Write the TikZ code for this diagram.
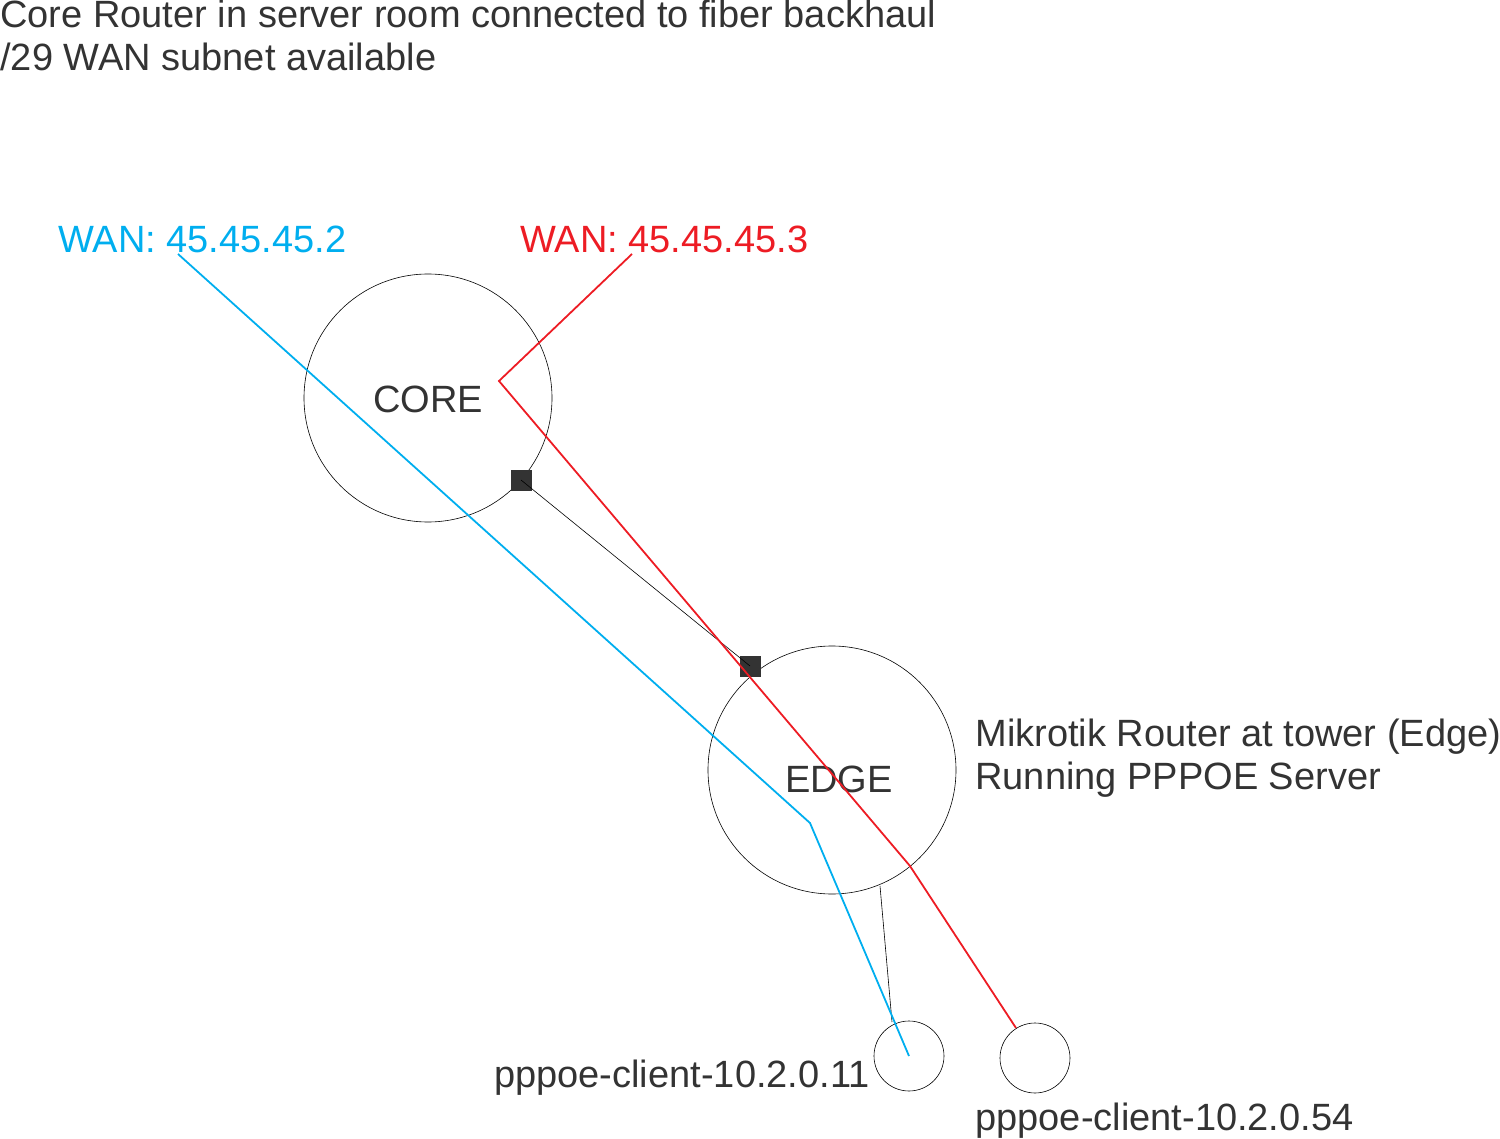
\documentclass[tikz,border=0pt]{standalone}
\usepackage{fontspec}
\setmainfont{Liberation Sans}
\definecolor{wanblue}{RGB}{0,174,239}
\definecolor{wanred}{RGB}{237,28,36}
\definecolor{txt}{RGB}{51,51,51}
\begin{document}
\begin{tikzpicture}[x=0.5pt,y=-0.5pt,
  lbl/.style={font=\fontsize{19}{22}\selectfont,text=txt,inner sep=0pt},
  router/.style={draw,circle,line width=0.3pt,inner sep=0pt},
  port/.style={fill=txt,minimum size=10.5pt,inner sep=0pt},
  thin/.style={line width=0.3pt}]
\useasboundingbox (0,0) rectangle (1500,1139);
\node[lbl,anchor=base west] (t1) at (0,28) {Core Router in server room connected to fiber backhaul};
\node[lbl,anchor=base west] (t2) at (0,71) {/29 WAN subnet available};
\node[lbl,anchor=base west,text=wanblue] (wb) at (58,253) {WAN: 45.45.45.2};
\node[lbl,anchor=base west,text=wanred] (wr) at (520,253) {WAN: 45.45.45.3};
\node[router,minimum size=124pt] (core) at (428,398) {};
\node[lbl] (coret) at (428,399) {CORE};
\node[router,minimum size=124pt] (edge) at (832,770) {};
\node[lbl] (edget) at (839,779) {EDGE};
\node[router,minimum size=35pt] (c1) at (909,1056) {};
\node[router,minimum size=35pt] (c2) at (1035,1058) {};
\node[port] (p1) at (521,480) {};
\node[port] (p2) at (750,666) {};
\node[lbl,anchor=base west] (mk) at (975,746) {Mikrotik Router at tower (Edge)};
\node[lbl,anchor=base west] (mk2) at (975,789) {Running PPPOE Server};
\node[lbl,anchor=base east] (l1) at (870,1087) {pppoe-client-10.2.0.11};
\node[lbl,anchor=base west] (l2) at (975,1130) {pppoe-client-10.2.0.54};
\coordinate (e1) at (880,886);
\coordinate (e2) at (892,1022);
\draw[thin] (p1.center) -- (p2.center);
\draw[thin] (e1) -- (e2);
\coordinate (b0) at (178,254);
\coordinate (b1) at (810,823);
\coordinate (b2) at (909,1056);
\coordinate (r0) at (632,254);
\coordinate (r1) at (499,381);
\coordinate (r2) at (910,866);
\coordinate (r3) at (1016,1028);
\draw[wanblue,line width=0.9pt] (b0) -- (b1) -- (b2);
\draw[wanred,line width=0.9pt] (r0) -- (r1) -- (r2) -- (r3);
\end{tikzpicture}
\end{document}
